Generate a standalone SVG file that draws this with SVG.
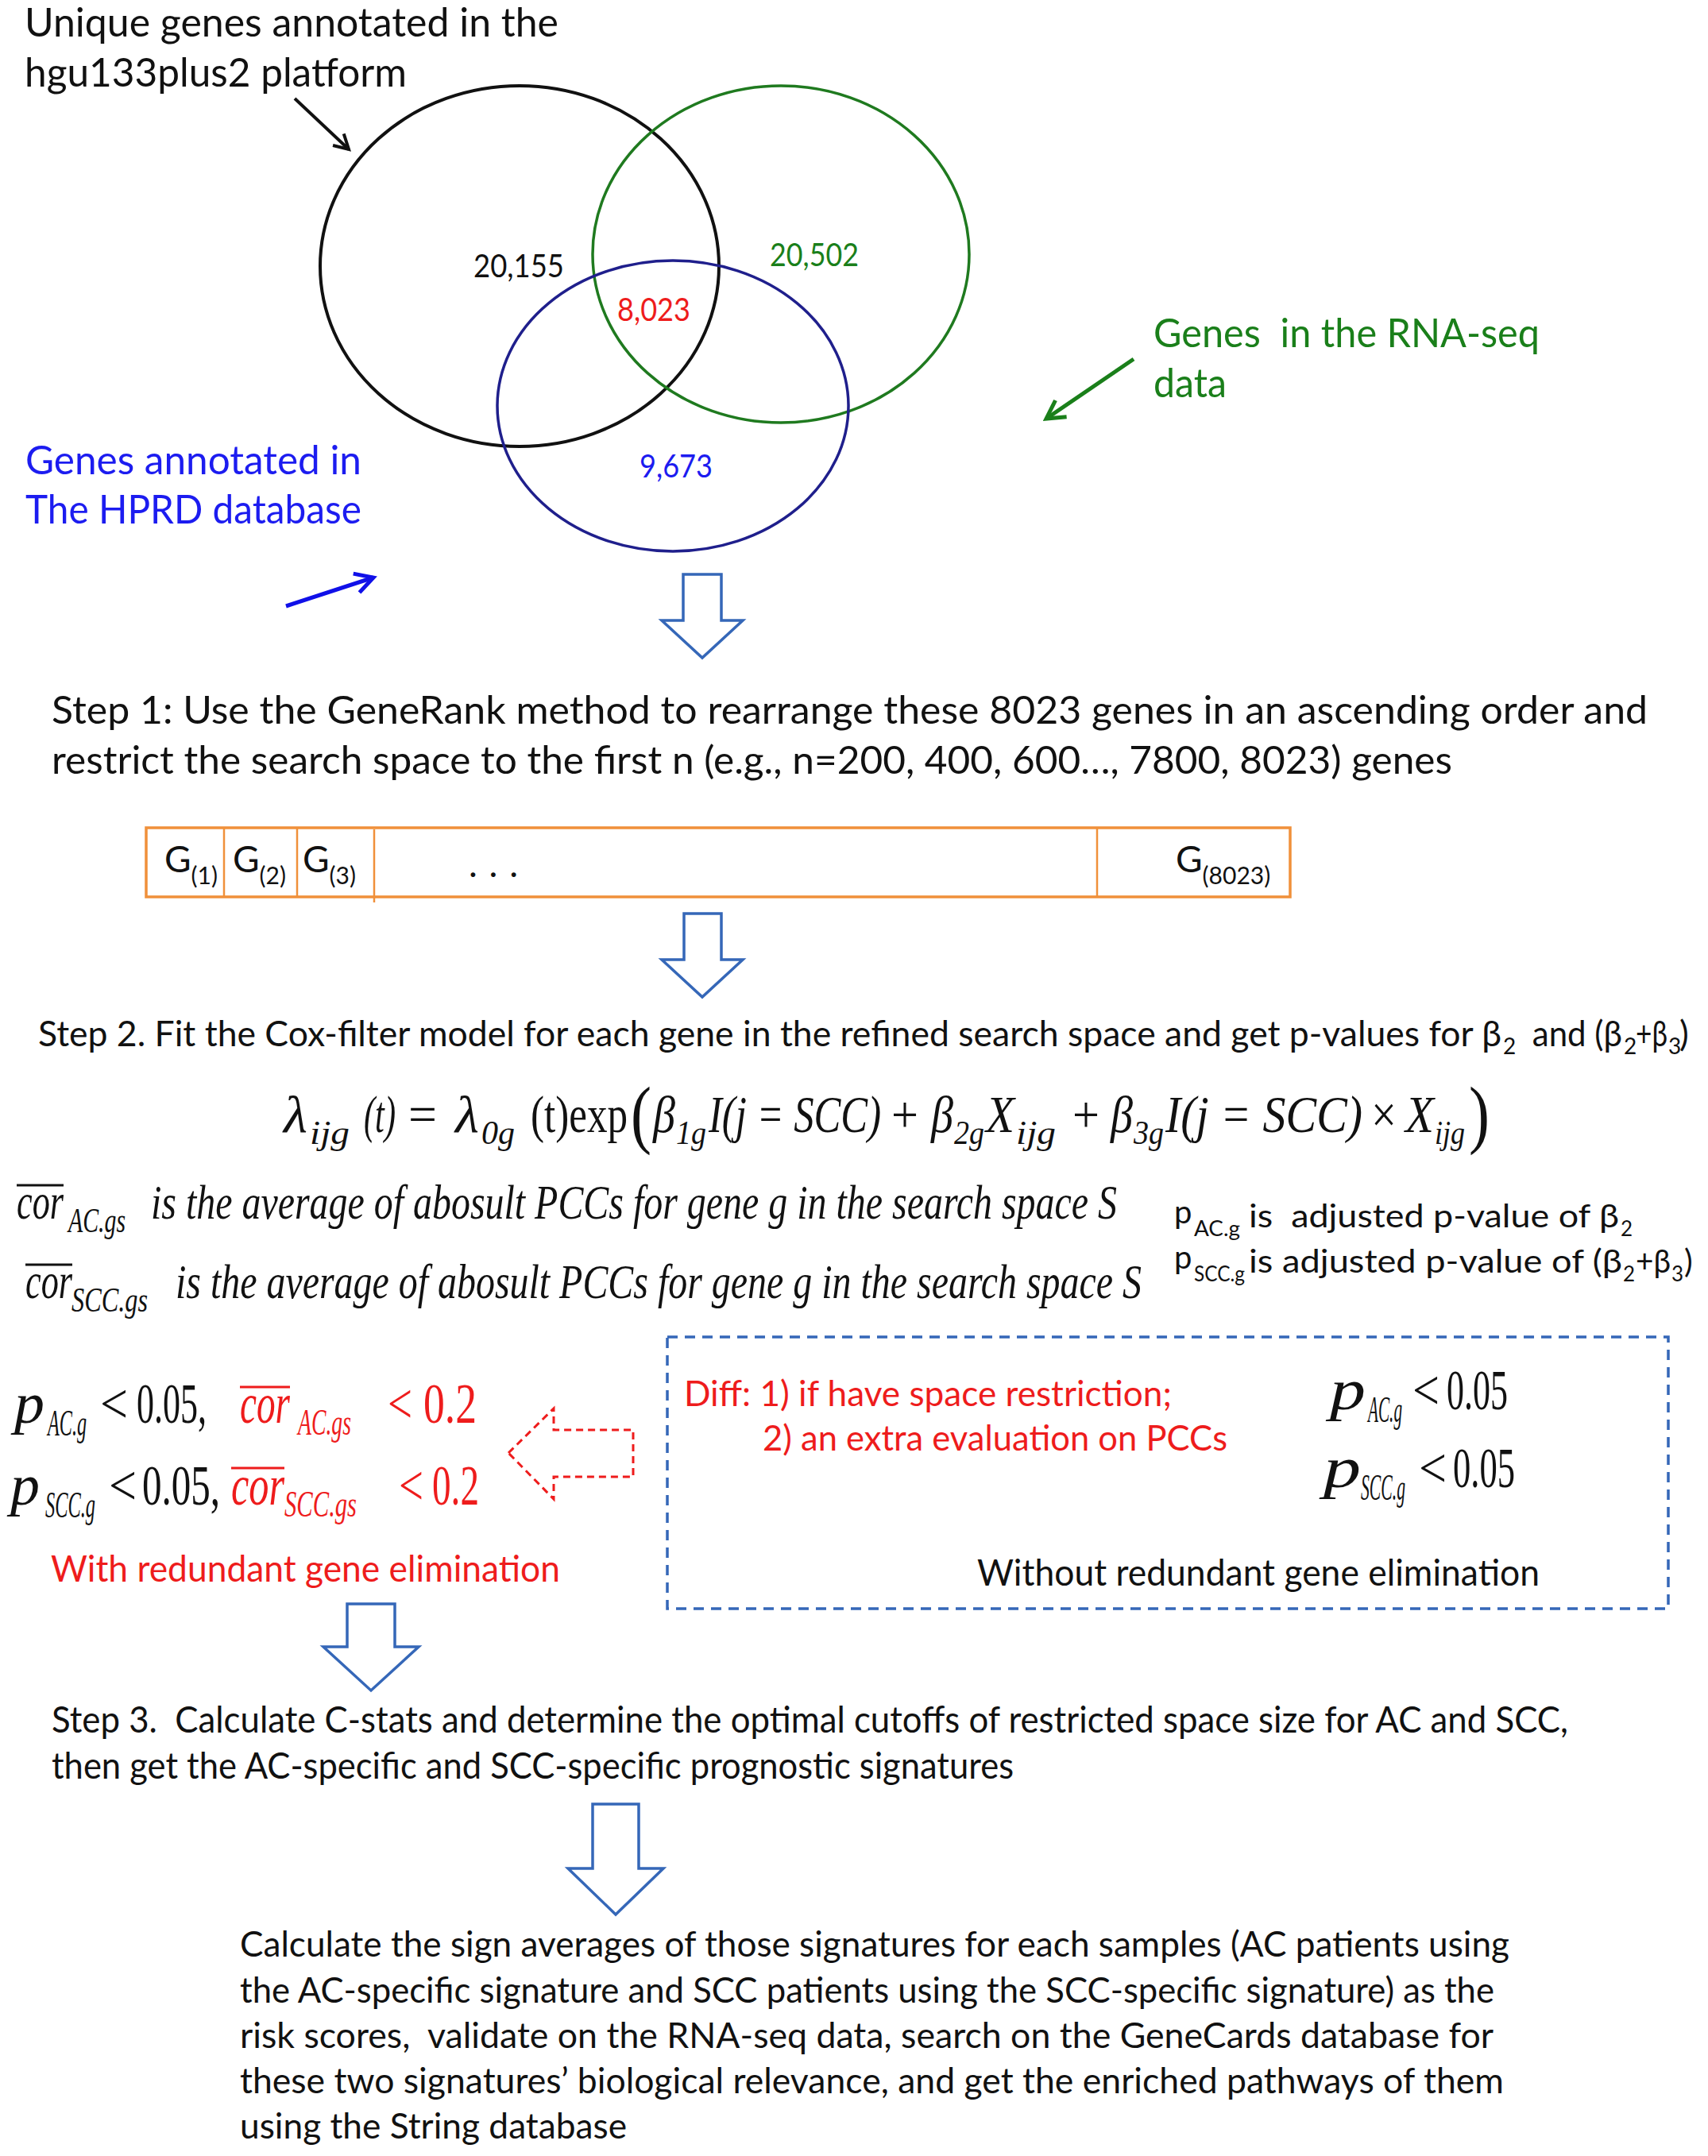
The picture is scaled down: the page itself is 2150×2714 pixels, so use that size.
<svg xmlns="http://www.w3.org/2000/svg" width="2150" height="2714" viewBox="0 0 2150 2714">
<style>
.t{font-family:Lato,"Open Sans","Liberation Sans",sans-serif;fill:#111}
.h{font-size:50px}
.num{font-size:40px}
.m{font-family:"Liberation Serif","DejaVu Serif",serif;font-style:italic;fill:#111}
.mu{font-family:"Liberation Serif","DejaVu Serif",serif;fill:#111}
.red{fill:#ee1c1c}
.blue{fill:#1c1cf0}
.green{fill:#1a7f1a}
.blk{fill:#fff;stroke:#3567b8;stroke-width:3.5;stroke-linejoin:miter}
.ov{stroke-width:3}
</style>
<defs>
<marker id="hk" viewBox="0 0 12 12" refX="10" refY="6" markerWidth="6" markerHeight="6" orient="auto" markerUnits="strokeWidth"><path d="M1,1 L10,6 L1,11" fill="none" stroke="#111" stroke-width="2"/></marker>
<marker id="hb" viewBox="0 0 12 12" refX="10" refY="6" markerWidth="6" markerHeight="6" orient="auto" markerUnits="strokeWidth"><path d="M1,1 L10,6 L1,11" fill="none" stroke="#1010e8" stroke-width="2"/></marker>
<marker id="hg" viewBox="0 0 12 12" refX="10" refY="6" markerWidth="6" markerHeight="6" orient="auto" markerUnits="strokeWidth"><path d="M1,1 L10,6 L1,11" fill="none" stroke="#1a7f1a" stroke-width="2"/></marker>
</defs>
<rect width="2150" height="2714" fill="#fff"/>

<g id="venn">
  <ellipse id="set-hgu" cx="654" cy="335" rx="251" ry="227" fill="none" stroke="#111" stroke-width="4"/>
  <ellipse id="set-rnaseq" cx="983" cy="320" rx="237" ry="212" fill="none" stroke="#1f7a1f" stroke-width="3.5"/>
  <ellipse id="set-hprd" cx="847" cy="511" rx="221" ry="183" fill="none" stroke="#1f1f8c" stroke-width="3.5"/>
  <text class="t num" x="596" y="349" textLength="114" lengthAdjust="spacingAndGlyphs">20,155</text>
  <text class="t num green" x="969" y="335" textLength="112" lengthAdjust="spacingAndGlyphs">20,502</text>
  <text class="t num red" x="777" y="404" textLength="92" lengthAdjust="spacingAndGlyphs">8,023</text>
  <text class="t num blue" x="805" y="601" textLength="92" lengthAdjust="spacingAndGlyphs">9,673</text>
</g>

<g id="label-hgu">
  <text class="t h" x="31" y="46" textLength="672" lengthAdjust="spacingAndGlyphs">Unique genes annotated in the</text>
  <text class="t h" x="31" y="109" textLength="481" lengthAdjust="spacingAndGlyphs">hgu133plus2 platform</text>
</g>
<g id="label-hprd">
  <text class="t h blue" x="32" y="597" textLength="423" lengthAdjust="spacingAndGlyphs">Genes annotated in</text>
  <text class="t h blue" x="32" y="659" textLength="423" lengthAdjust="spacingAndGlyphs">The HPRD database</text>
</g>
<g id="label-rnaseq">
  <text class="t h green" x="1452" y="437" textLength="486" lengthAdjust="spacingAndGlyphs" xml:space="preserve">Genes  in the RNA-seq</text>
  <text class="t h green" x="1452" y="500" textLength="92" lengthAdjust="spacingAndGlyphs">data</text>
</g>

<g id="step1">
  <text class="t" x="65" y="911" font-size="48" textLength="2009" lengthAdjust="spacingAndGlyphs">Step 1: Use the GeneRank method to rearrange these 8023 genes in an ascending order and</text>
  <text class="t" x="65" y="974" font-size="48" textLength="1763" lengthAdjust="spacingAndGlyphs">restrict the search space to the first n (e.g., n=200, 400, 600…, 7800, 8023) genes</text>
</g>

<g id="gene-bar">
  <rect x="184" y="1042" width="1440" height="87" fill="none" stroke="#f0903a" stroke-width="3.5"/>
  <line x1="282" y1="1042" x2="282" y2="1129" stroke="#f0903a" stroke-width="2.5"/>
  <line x1="374" y1="1042" x2="374" y2="1129" stroke="#f0903a" stroke-width="2.5"/>
  <line x1="471" y1="1044" x2="471" y2="1136" stroke="#f0903a" stroke-width="2.5"/>
  <line x1="1381" y1="1042" x2="1381" y2="1129" stroke="#f0903a" stroke-width="2.5"/>
  <text class="t" x="207" y="1098" font-size="46">G<tspan font-size="30" dy="15">(1)</tspan></text>
  <text class="t" x="293" y="1098" font-size="46">G<tspan font-size="30" dy="15">(2)</tspan></text>
  <text class="t" x="381" y="1098" font-size="46">G<tspan font-size="30" dy="15">(3)</tspan></text>
  <text class="t" x="590" y="1104" font-size="46" textLength="62" lengthAdjust="spacing">. . .</text>
  <text class="t" x="1480" y="1098" font-size="46">G<tspan font-size="30" dy="15">(8023)</tspan></text>
</g>

<g id="step2">
  <text class="t" x="48" y="1317" font-size="44" textLength="1842" lengthAdjust="spacingAndGlyphs">Step 2. Fit the Cox-filter model for each gene in the refined search space and get p-values for β</text>
  <text class="t" x="1892" y="1327" font-size="28">2</text>
  <text class="t" x="1918" y="1317" font-size="44" textLength="124" lengthAdjust="spacingAndGlyphs" xml:space="preserve"> and (β</text>
  <text class="t" x="2044" y="1327" font-size="28">2</text>
  <text class="t" x="2059" y="1317" font-size="44" textLength="40" lengthAdjust="spacingAndGlyphs">+β</text>
  <text class="t" x="2100" y="1327" font-size="28">3</text>
  <text class="t" x="2114" y="1317" font-size="44">)</text>
</g>

<g id="formula">
  <text class="m" x="357" y="1425" font-size="66" textLength="30" lengthAdjust="spacingAndGlyphs">λ</text>
  <text class="m" x="390" y="1440" font-size="42" textLength="50" lengthAdjust="spacingAndGlyphs">ijg</text>
  <text class="m" x="458" y="1425" font-size="66" textLength="40" lengthAdjust="spacingAndGlyphs">(t)</text>
  <text class="mu" x="514" y="1425" font-size="66" textLength="36" lengthAdjust="spacingAndGlyphs">=</text>
  <text class="m" x="573" y="1425" font-size="66" textLength="30" lengthAdjust="spacingAndGlyphs">λ</text>
  <text class="m" x="606" y="1440" font-size="42" textLength="42" lengthAdjust="spacingAndGlyphs">0g</text>
  <text class="mu" x="668" y="1425" font-size="66" textLength="122" lengthAdjust="spacingAndGlyphs">(t)exp</text>
  <text class="mu" x="794" y="1434" font-size="96" textLength="26" lengthAdjust="spacingAndGlyphs">(</text>
  <text class="m" x="822" y="1425" font-size="66" textLength="28" lengthAdjust="spacingAndGlyphs">β</text>
  <text class="m" x="851" y="1440" font-size="42" textLength="38" lengthAdjust="spacingAndGlyphs">1g</text>
  <text class="m" x="892" y="1425" font-size="66" textLength="217" lengthAdjust="spacingAndGlyphs">I(j = SCC)</text>
  <text class="mu" x="1122" y="1425" font-size="66" textLength="34" lengthAdjust="spacingAndGlyphs">+</text>
  <text class="m" x="1172" y="1425" font-size="66" textLength="28" lengthAdjust="spacingAndGlyphs">β</text>
  <text class="m" x="1201" y="1440" font-size="42" textLength="38" lengthAdjust="spacingAndGlyphs">2g</text>
  <text class="m" x="1241" y="1425" font-size="66" textLength="36" lengthAdjust="spacingAndGlyphs">X</text>
  <text class="m" x="1279" y="1440" font-size="42" textLength="50" lengthAdjust="spacingAndGlyphs">ijg</text>
  <text class="mu" x="1350" y="1425" font-size="66" textLength="34" lengthAdjust="spacingAndGlyphs">+</text>
  <text class="m" x="1398" y="1425" font-size="66" textLength="28" lengthAdjust="spacingAndGlyphs">β</text>
  <text class="m" x="1427" y="1440" font-size="42" textLength="38" lengthAdjust="spacingAndGlyphs">3g</text>
  <text class="m" x="1467" y="1425" font-size="66" textLength="248" lengthAdjust="spacingAndGlyphs">I(j = SCC)</text>
  <text class="mu" x="1726" y="1425" font-size="66" textLength="32" lengthAdjust="spacingAndGlyphs">×</text>
  <text class="m" x="1769" y="1425" font-size="66" textLength="36" lengthAdjust="spacingAndGlyphs">X</text>
  <text class="m" x="1806" y="1440" font-size="42" textLength="38" lengthAdjust="spacingAndGlyphs">ijg</text>
  <text class="mu" x="1849" y="1434" font-size="96" textLength="26" lengthAdjust="spacingAndGlyphs">)</text>
</g>

<g id="cor-definitions">
  <text class="m" x="21" y="1534" font-size="64" textLength="59" lengthAdjust="spacingAndGlyphs">cor</text>
  <line x1="21" y1="1492" x2="80" y2="1492" stroke="#111" class="ov"/>
  <text class="m" x="86" y="1551" font-size="44" textLength="72" lengthAdjust="spacingAndGlyphs">AC.gs</text>
  <text class="m" x="190" y="1534" font-size="62" textLength="1216" lengthAdjust="spacingAndGlyphs">is the average of abosult PCCs for gene g in the search space S</text>
  <text class="m" x="32" y="1634" font-size="64" textLength="59" lengthAdjust="spacingAndGlyphs">cor</text>
  <line x1="32" y1="1592" x2="91" y2="1592" stroke="#111" class="ov"/>
  <text class="m" x="90" y="1651" font-size="44" textLength="96" lengthAdjust="spacingAndGlyphs">SCC.gs</text>
  <text class="m" x="221" y="1634" font-size="62" textLength="1216" lengthAdjust="spacingAndGlyphs">is the average of abosult PCCs for gene g in the search space S</text>
</g>

<g id="p-definitions">
  <text class="t" x="1478" y="1540" font-size="40">p</text>
  <text class="t" x="1503" y="1556" font-size="26" textLength="58" lengthAdjust="spacingAndGlyphs">AC.g</text>
  <text class="t" x="1572" y="1545" font-size="40" textLength="466" lengthAdjust="spacingAndGlyphs" xml:space="preserve">is  adjusted p-value of β</text>
  <text class="t" x="2040" y="1556" font-size="26">2</text>
  <text class="t" x="1478" y="1597" font-size="40">p</text>
  <text class="t" x="1503" y="1613" font-size="26" textLength="64" lengthAdjust="spacingAndGlyphs">SCC.g</text>
  <text class="t" x="1572" y="1602" font-size="40" textLength="470" lengthAdjust="spacingAndGlyphs">is adjusted p-value of (β</text>
  <text class="t" x="2043" y="1613" font-size="26">2</text>
  <text class="t" x="2059" y="1602" font-size="40" textLength="44" lengthAdjust="spacingAndGlyphs">+β</text>
  <text class="t" x="2104" y="1613" font-size="26">3</text>
  <text class="t" x="2120" y="1602" font-size="40">)</text>
</g>

<g id="with-redundant">
  <text class="m" x="18" y="1791" font-size="72" textLength="38" lengthAdjust="spacingAndGlyphs">p</text>
  <text class="m" x="60" y="1807" font-size="46" textLength="49" lengthAdjust="spacingAndGlyphs">AC.g</text>
  <text class="mu" x="126" y="1791" font-size="72" textLength="35" lengthAdjust="spacingAndGlyphs">&lt;</text>
  <text class="mu" x="172" y="1791" font-size="72" textLength="88" lengthAdjust="spacingAndGlyphs">0.05,</text>
  <text class="m red" x="302" y="1791" font-size="72" textLength="63" lengthAdjust="spacingAndGlyphs">cor</text>
  <line x1="302" y1="1746" x2="365" y2="1746" stroke="#ee1c1c" class="ov"/>
  <text class="m red" x="375" y="1806" font-size="46" textLength="67" lengthAdjust="spacingAndGlyphs">AC.gs</text>
  <text class="mu red" x="488" y="1791" font-size="72" textLength="31" lengthAdjust="spacingAndGlyphs">&lt;</text>
  <text class="mu red" x="533" y="1791" font-size="72" textLength="67" lengthAdjust="spacingAndGlyphs">0.2</text>

  <text class="m" x="13" y="1894" font-size="72" textLength="37" lengthAdjust="spacingAndGlyphs">p</text>
  <text class="m" x="57" y="1910" font-size="46" textLength="63" lengthAdjust="spacingAndGlyphs">SCC.g</text>
  <text class="mu" x="137" y="1894" font-size="72" textLength="35" lengthAdjust="spacingAndGlyphs">&lt;</text>
  <text class="mu" x="179" y="1894" font-size="72" textLength="98" lengthAdjust="spacingAndGlyphs">0.05,</text>
  <text class="m red" x="291" y="1894" font-size="72" textLength="67" lengthAdjust="spacingAndGlyphs">cor</text>
  <line x1="291" y1="1848" x2="358" y2="1848" stroke="#ee1c1c" class="ov"/>
  <text class="m red" x="358" y="1909" font-size="46" textLength="91" lengthAdjust="spacingAndGlyphs">SCC.gs</text>
  <text class="mu red" x="502" y="1894" font-size="72" textLength="31" lengthAdjust="spacingAndGlyphs">&lt;</text>
  <text class="mu red" x="544" y="1894" font-size="72" textLength="59" lengthAdjust="spacingAndGlyphs">0.2</text>

  <text class="t red" x="64" y="1991" font-size="46" textLength="641" lengthAdjust="spacingAndGlyphs">With redundant gene elimination</text>
</g>

<g id="without-redundant">
  <rect x="840" y="1683" width="1260" height="342" fill="none" stroke="#3567b8" stroke-width="3.5" stroke-dasharray="13 9"/>
  <text class="t red" x="861" y="1770" font-size="44" textLength="614" lengthAdjust="spacingAndGlyphs">Diff: 1) if have space restriction;</text>
  <text class="t red" x="960" y="1826" font-size="44" textLength="585" lengthAdjust="spacingAndGlyphs">2) an extra evaluation on PCCs</text>
  <text class="m" x="1674" y="1774" font-size="72" textLength="45" lengthAdjust="spacingAndGlyphs">p</text>
  <text class="m" x="1722" y="1790" font-size="46" textLength="43" lengthAdjust="spacingAndGlyphs">AC.g</text>
  <text class="mu" x="1778" y="1774" font-size="72" textLength="34" lengthAdjust="spacingAndGlyphs">&lt;</text>
  <text class="mu" x="1821" y="1774" font-size="72" textLength="77" lengthAdjust="spacingAndGlyphs">0.05</text>
  <text class="m" x="1666" y="1872" font-size="72" textLength="47" lengthAdjust="spacingAndGlyphs">p</text>
  <text class="m" x="1713" y="1888" font-size="46" textLength="56" lengthAdjust="spacingAndGlyphs">SCC.g</text>
  <text class="mu" x="1786" y="1872" font-size="72" textLength="35" lengthAdjust="spacingAndGlyphs">&lt;</text>
  <text class="mu" x="1829" y="1872" font-size="72" textLength="78" lengthAdjust="spacingAndGlyphs">0.05</text>
  <text class="t" x="1230" y="1996" font-size="46" textLength="708" lengthAdjust="spacingAndGlyphs">Without redundant gene elimination</text>
</g>

<g id="step3">
  <text class="t" x="65" y="2181" font-size="46" textLength="1909" lengthAdjust="spacingAndGlyphs" xml:space="preserve">Step 3.  Calculate C-stats and determine the optimal cutoffs of restricted space size for AC and SCC,</text>
  <text class="t" x="65" y="2239" font-size="46" textLength="1211" lengthAdjust="spacingAndGlyphs">then get the AC-specific and SCC-specific prognostic signatures</text>
</g>

<g id="final-step">
  <text class="t" x="302" y="2463" font-size="45" textLength="1598" lengthAdjust="spacingAndGlyphs">Calculate the sign averages of those signatures for each samples (AC patients using</text>
  <text class="t" x="302" y="2521" font-size="45" textLength="1579" lengthAdjust="spacingAndGlyphs">the AC-specific signature and SCC patients using the SCC-specific signature) as the</text>
  <text class="t" x="302" y="2578" font-size="45" textLength="1578" lengthAdjust="spacingAndGlyphs" xml:space="preserve">risk scores,  validate on the RNA-seq data, search on the GeneCards database for</text>
  <text class="t" x="302" y="2635" font-size="45" textLength="1591" lengthAdjust="spacingAndGlyphs">these two signatures’ biological relevance, and get the enriched pathways of them</text>
  <text class="t" x="302" y="2692" font-size="45" textLength="487" lengthAdjust="spacingAndGlyphs">using the String database</text>
</g>

<g id="connectors">
  <line x1="371" y1="124" x2="439" y2="188" stroke="#111" stroke-width="4" marker-end="url(#hk)"/>
  <line x1="360" y1="763" x2="470" y2="727" stroke="#1010e8" stroke-width="5" marker-end="url(#hb)"/>
  <line x1="1427" y1="452" x2="1317" y2="527" stroke="#1a7f1a" stroke-width="5" marker-end="url(#hg)"/>
  <polygon class="blk" points="860,723 908,723 908,781 935,781 884,828 833,781 860,781"/>
  <polygon class="blk" points="861,1150 908,1150 908,1208 935,1208 884,1255 833,1208 861,1208"/>
  <polygon class="blk" points="437,2019 497,2019 497,2073 527,2073 467,2128 407,2073 437,2073"/>
  <polygon class="blk" points="746,2271 804,2271 804,2352 835,2352 775,2410 715,2352 746,2352"/>
  <polygon points="640,1829 697,1773 697,1800 797,1800 797,1859 697,1859 697,1887" fill="none" stroke="#ee1c1c" stroke-width="3" stroke-dasharray="9 6"/>
</g>
</svg>
